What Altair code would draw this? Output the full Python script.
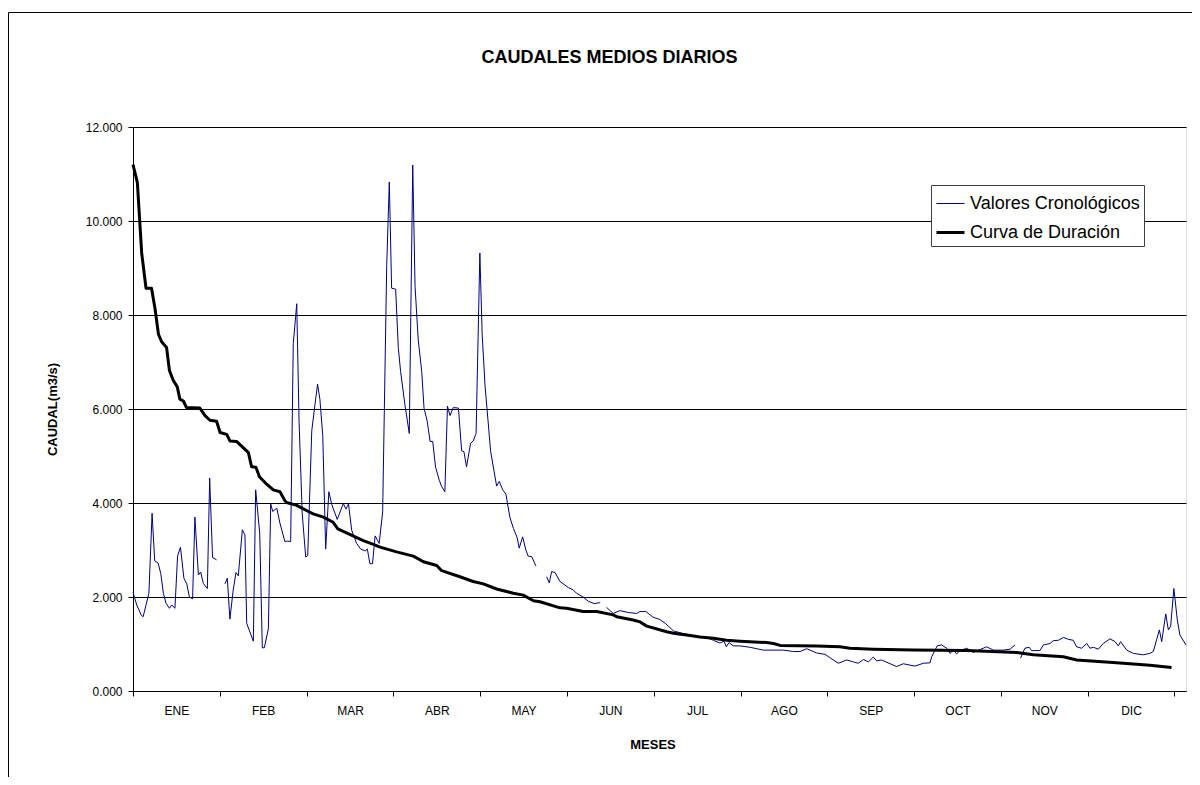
import altair as alt
import pandas as pd

SERIE_A = "Valores Cronológicos"
SERIE_B = "Curva de Duración"

# Valores cronológicos (día del año, caudal m3/s); None = dato faltante
blue_days = [0, 1.3, 2.8, 3.5, 5.5, 6.6, 7.5, 8.7, 9.6, 10.5, 11.4, 12.6, 13.4, 14.5, 15.4, 16.4,
             17.6, 18.6, 19.5, 20.6, 21.4, 22.6, 23.4, 24.3, 25.7, 26.5, 27.5, 28.9, 30.3,
             31.8, 32.6, 33.5, 34.6, 35.6, 36.4, 37.8, 38.7, 39.3, 41.6, 42.4, 43.8, 44.7, 45.4,
             46.8, 47.6, 48.3, 49.7, 50.8, 52.5, 53.3, 54.5, 55.4, 56.6, 57.4, 58.5, 59.7, 60.4,
             61.8, 62.9, 63.8, 64.6, 65.6, 66.6, 67.7, 68.7, 70.6, 72.7, 73.6, 74.5, 75.6, 77.3,
             78.7, 80.3, 81.0, 81.9, 82.8, 83.7, 85.1, 86.3, 87.7, 88.6, 89.4, 90.8, 91.7, 92.5,
             94.0, 95.5, 96.7, 97.5, 98.6, 99.8, 100.6, 101.7, 102.7, 103.6, 104.6, 105.9, 106.7,
             107.8, 108.7, 109.6, 110.7, 112.5, 113.6, 114.4, 115.3, 116.7, 117.6, 118.6, 119.9,
             120.7, 121.7, 122.8, 123.6, 124.8, 125.7, 126.6, 127.8, 128.9, 130.3, 131.5, 132.8,
             133.5, 134.7, 135.8, 136.6, 137.8, 139.3, 141.0,
             143.0, 143.9, 144.7, 145.9, 147.6, 150.5, 152.2, 153.3, 155.6, 157.4, 159.4, 161.5, 162.6,
             163.7, 166.0, 168.3, 171.2, 174.1, 175.2, 177.3, 179.8, 182.1, 184.0, 186.8, 189.1,
             191.9, 194.8, 198.3, 200.6, 202.9, 204.3, 205.1, 206.0, 207.5, 209.8, 213.3, 217.9,
             224.8, 228.3, 230.6, 232.9, 236.3, 239.2, 240.9, 243.8, 246.7, 249.0, 250.7, 252.5,
             254.2, 255.9, 257.1, 258.8, 261.7, 264.0, 266.3, 268.6, 270.3, 273.2, 275.5, 276.1,
             278.0, 279.5, 281.3, 282.4, 283.6, 284.7, 285.9, 288.2, 290.5, 293.9, 295.1, 297.4,
             300.9, 303.2, 304.9, 305.9,
             306.8, 308.3, 309.8, 310.6, 313.5, 314.7, 317.0, 318.1, 319.9, 321.6, 323.3, 325.0,
             326.2, 327.9, 329.7, 330.8, 332.0, 333.7, 335.4, 337.7, 339.5, 340.6, 341.4, 343.5,
             345.8, 349.2, 351.5, 352.7, 354.8, 355.6, 357.0, 357.9, 358.7, 359.8, 361.0, 361.9, 364.0]
blue_vals = [2.10, 1.83, 1.62, 1.58, 2.08, 3.78, 2.77, 2.72, 2.50, 2.08, 1.87, 1.76, 1.83, 1.76, 2.87, 3.06,
             2.40, 2.28, 2.00, 1.96, 3.70, 2.47, 2.53, 2.29, 2.18, 4.53, 2.84, 2.79, None,
             2.28, 2.40, 1.53, 2.13, 2.52, 2.45, 3.43, 3.32, 1.44, 1.06, 4.28, 3.36, 0.92, 0.92,
             1.33, 3.98, 3.82, 3.89, 3.57, 3.18, 3.19, 3.18, 7.39, 8.24, 5.74, 3.77, 2.85, 2.88,
             5.54, 6.09, 6.53, 6.21, 5.43, 3.02, 4.24, 3.97, 3.65, 3.99, 3.87, 3.98, 3.42, 3.14,
             3.02, 2.98, 3.02, 2.71, 2.71, 3.30, 3.14, 3.81, 9.05, 10.83, 8.57, 8.55, 7.31, 6.80,
             6.09, 5.48, 11.19, 8.61, 7.47, 6.80, 6.02, 5.74, 5.31, 5.31, 4.76, 4.48, 4.35,
             4.24, 6.06, 5.86, 6.03, 6.02, 5.11, 5.09, 4.77, 5.27, 5.32, 5.48, 9.32,
             7.59, 6.49, 5.70, 5.11, 4.68, 4.36, 4.46, 4.28, 4.19, 3.69, 3.46, 3.26,
             3.04, 3.28, 3.00, 2.87, 2.86, 2.66, None,
             2.43, 2.30, 2.54, 2.52, 2.33, 2.20, 2.15, 2.08, 2.00, 1.91, 1.86, 1.88, None,
             1.78, 1.65, 1.71, 1.67, 1.65, 1.69, 1.69, 1.57, 1.52, 1.44, 1.28, 1.24,
             1.20, 1.16, 1.14, 1.08, 1.02, 1.06, 0.94, 1.03, 0.96, 0.96, 0.93, 0.87,
             0.87, 0.84, 0.84, 0.90, 0.81, 0.78, 0.71, 0.59, 0.66, 0.62, 0.59, 0.67,
             0.62, 0.72, 0.64, 0.66, 0.58, 0.52, 0.58, 0.55, 0.53, 0.59, 0.60, 0.73,
             0.96, 0.98, 0.91, 0.80, 0.87, 0.79, 0.86, 0.91, 0.82, 0.91, 0.94, 0.87,
             0.87, 0.89, 0.98, None,
             0.70, 0.91, 0.93, 0.86, 0.86, 0.98, 1.01, 1.07, 1.08, 1.14, 1.10, 1.08,
             0.94, 0.91, 1.01, 0.91, 0.93, 0.89, 1.01, 1.11, 1.05, 0.96, 1.05, 0.87,
             0.80, 0.77, 0.80, 0.84, 1.30, 1.05, 1.64, 1.30, 1.38, 2.18, 1.51, 1.19, 0.98]

# Curva de duración
black_days = [0, 1.5, 3.0, 4.5, 6.4, 7.6, 8.8, 9.9, 11.6, 12.6, 13.9, 15.3, 16.2, 17.4, 18.5, 23.1,
              24.9, 26.6, 28.9, 30.1, 32.4, 33.5, 35.8, 39.9, 41.0, 42.5, 43.7, 46.2, 48.5, 50.8,
              52.5, 53.1, 56.6, 60.3, 62.3, 65.8, 69.2, 70.8, 75.3, 79.6, 83.1, 85.4, 91.1, 96.9,
              100.4, 105.0, 106.7, 113.0, 117.6, 121.1, 125.7, 131.5, 134.9, 138.4, 140.7, 147.6,
              149.9, 155.6, 160.3, 166.0, 167.2, 172.9, 175.3, 177.6, 184.5, 186.8, 191.4, 196.0,
              200.6, 205.2, 209.8, 219.0, 221.4, 223.7, 236.3, 244.4, 247.8, 255.9, 269.7, 288.2,
              305.5, 311.2, 321.6, 326.2, 340.0, 351.5, 359.0]
black_vals = [11.20, 10.82, 9.32, 8.57, 8.57, 8.14, 7.59, 7.43, 7.31, 6.82, 6.61, 6.47, 6.21, 6.17, 6.03, 6.02,
              5.86, 5.76, 5.74, 5.50, 5.46, 5.32, 5.31, 5.07, 4.77, 4.76, 4.56, 4.40, 4.28, 4.24,
              4.05, 4.01, 3.95, 3.83, 3.77, 3.70, 3.59, 3.45, 3.32, 3.20, 3.12, 3.06, 2.96, 2.87,
              2.75, 2.67, 2.56, 2.43, 2.33, 2.28, 2.17, 2.08, 2.04, 1.92, 1.90, 1.77,
              1.76, 1.69, 1.69, 1.62, 1.58, 1.51, 1.47, 1.38, 1.26, 1.23, 1.19, 1.15,
              1.12, 1.08, 1.06, 1.03, 1.01, 0.97, 0.96, 0.94, 0.91, 0.89, 0.87, 0.86,
              0.82, 0.77, 0.73, 0.66, 0.60, 0.55, 0.50]

month_labels = ["ENE", "FEB", "MAR", "ABR", "MAY", "JUN", "JUL", "AGO", "SEP", "OCT", "NOV", "DIC"]
month_edges = [0, 30, 60, 90, 120, 150, 180, 210, 240, 270, 300, 330, 360]
month_mids = [15, 45, 75, 105, 135, 165, 195, 225, 255, 285, 315, 345]
y_ticks = [0, 2, 4, 6, 8, 10, 12]

rows = []
seg = 0
for d, v in zip(blue_days, blue_vals):
    if v is None:
        seg += 1
        continue
    rows.append({"dia": d, "caudal": v, "serie": SERIE_A, "tramo": f"a{seg}"})
for d, v in zip(black_days, black_vals):
    rows.append({"dia": d, "caudal": v, "serie": SERIE_B, "tramo": "b0"})
df = pd.DataFrame(rows)

FONT = "Liberation Sans"
W, H = 1053, 564

names_js = "[" + ",".join(f"'{m}'" for m in month_labels) + "]"
mids_js = "[" + ",".join(str(m) for m in month_mids) + "]"
edges_js = "[" + ",".join(str(m) for m in month_edges) + "]"

x_axis = alt.Axis(
    values=month_edges + month_mids,
    labelExpr=f"indexof({mids_js}, datum.value) >= 0 ? {names_js}[indexof({mids_js}, datum.value)] : ''",
    tickOpacity={"condition": {"test": f"indexof({edges_js}, datum.value) >= 0", "value": 1}, "value": 0},
    tickSize=5, tickColor="black", domainColor="black", grid=False,
    labelFont=FONT, labelFontSize=12, labelColor="black", labelPadding=9, labelOverlap=False,
    labelAngle=0,
    title="MESES", titleFont=FONT, titleFontSize=13, titleFontWeight="bold", titleColor="black",
    titleX=W / 2 - 7, titleY=53, titleBaseline="middle",
)
y_axis = alt.Axis(
    values=y_ticks, format=".3f",
    tickSize=5, tickColor="black", domainColor="black",
    grid=True, gridColor="black", gridWidth=1,
    labelFont=FONT, labelFontSize=12, labelColor="black", labelPadding=6,
    title="CAUDAL(m3/s)", titleFont=FONT, titleFontSize=13, titleFontWeight="bold", titleColor="black",
    titleX=-81, titleY=H / 2, titleBaseline="middle", titleAngle=270,
)

legend = alt.Legend(
    title=None, orient="none", legendX=798, legendY=58,
    symbolType="stroke", symbolSize=784,
    labelFont=FONT, labelFontSize=18, labelColor="black", labelLimit=400,
    fillColor="white", strokeColor="#404040", padding=4, rowPadding=4,
)

color_scale = alt.Scale(domain=[SERIE_A, SERIE_B], range=["#000080", "#000000"])
width_scale = alt.Scale(domain=[SERIE_A, SERIE_B], range=[1, 3])

base = alt.Chart(df).encode(
    x=alt.X("dia:Q", scale=alt.Scale(domain=[0, 364], nice=False, zero=False), axis=x_axis),
    y=alt.Y("caudal:Q", scale=alt.Scale(domain=[0, 12], nice=False), axis=y_axis),
    color=alt.Color("serie:N", scale=color_scale, legend=legend),
    strokeWidth=alt.StrokeWidth("serie:N", scale=width_scale, legend=legend),
    detail="tramo:N",
)

blue = base.transform_filter(alt.datum.serie == SERIE_A).mark_line(strokeJoin="round")
black = base.transform_filter(alt.datum.serie == SERIE_B).mark_line(strokeJoin="round")

frame = alt.Chart(pd.DataFrame({"k": [0]})).mark_rect(
    fill=None, stroke="black", strokeWidth=1
).encode(
    x=alt.value(-124.5), x2=alt.value(W + 200), y=alt.value(-114.5), y2=alt.value(H + 200)
)

chart = alt.layer(frame, blue, black).properties(
    width=W, height=H,
    title=alt.Title("CAUDALES MEDIOS DIARIOS", font=FONT, fontSize=18, fontWeight="bold",
                    color="black", anchor="middle", dx=-50, offset=-55),
    padding={"left": 125, "top": 119, "right": 6, "bottom": 86},
    autosize=alt.AutoSizeParams(type="none"),
).configure_view(stroke="#808080", strokeWidth=1).configure(background="white")

chart.save("out.html", embed_options={"renderer": "svg", "actions": False})
